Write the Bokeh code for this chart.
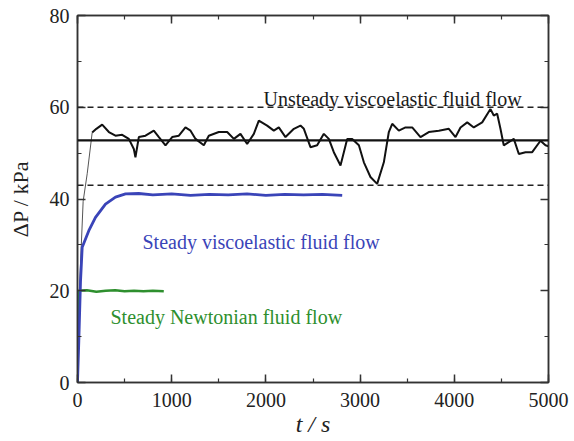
from bokeh.plotting import figure
from bokeh.models import LinearAxis, Span, Label, Range1d, FixedTicker
from bokeh.embed import file_html
from bokeh.resources import INLINE

# ---- data ----
t_unsteady = [0, 20, 60, 103, 156, 200, 262, 333, 403, 474, 545, 598, 615, 651, 722, 810, 864,
              934, 1005, 1076, 1146, 1200, 1253, 1341, 1394, 1500, 1589, 1660, 1730, 1801, 1872,
              1925, 2013, 2084, 2137, 2208, 2297, 2367, 2403, 2473, 2544, 2615, 2668, 2721, 2792,
              2863, 2916, 2987, 3040, 3110, 3181, 3252, 3305, 3341, 3411, 3482, 3553, 3641, 3729,
              3836, 3942, 4013, 4066, 4137, 4207, 4296, 4384, 4419, 4455, 4490, 4525, 4578, 4632,
              4685, 4756, 4827, 4915, 4968, 5000]
p_unsteady = [0, 20, 39.5, 45.5, 54.5, 55.3, 56.2, 54.6, 53.8, 54.0, 53.1, 50.9, 49.1, 53.5, 53.8,
              54.9, 53.5, 51.7, 53.5, 53.8, 55.6, 54.9, 53.1, 51.7, 53.8, 54.6, 54.6, 53.1, 54.2,
              52.0, 54.2, 57.1, 56.0, 54.9, 55.6, 53.5, 55.3, 56.0, 55.3, 51.3, 51.7, 54.2, 53.1,
              50.2, 47.3, 53.1, 53.1, 51.7, 48.0, 44.8, 43.3, 48.0, 54.6, 56.4, 54.9, 55.6, 55.6,
              53.5, 54.6, 54.9, 55.3, 53.5, 55.6, 56.7, 55.6, 56.7, 59.6, 58.2, 58.6, 55.3, 51.7,
              52.4, 53.1, 49.8, 50.2, 50.2, 52.7, 51.7, 51.5]
n_startup = 5  # first points form the thin start-up ramp

t_visco = [0, 14, 32, 50, 120, 191, 297, 403, 510, 650, 800, 1000, 1200, 1400, 1600, 1800, 2000,
           2200, 2400, 2600, 2810]
p_visco = [0, 9, 22, 29.5, 33.1, 36.0, 38.9, 40.4, 41.1, 41.2, 40.9, 41.1, 40.8, 41.0, 40.9, 41.1,
           40.8, 41.0, 40.9, 41.0, 40.8]

t_newton = [0, 8, 15, 100, 200, 300, 400, 500, 600, 700, 800, 916]
p_newton = [0, 17, 20, 20.1, 19.8, 20.0, 20.1, 19.9, 20.0, 19.9, 20.0, 19.9]

mean_level = 52.8
upper_level = 60.0
lower_level = 43.0

x_ticks = [0, 1000, 2000, 3000, 4000, 5000]
y_ticks = [0, 20, 40, 60, 80]

labels = [("Unsteady viscoelastic fluid flow", 1975, 61.9, "#1a1a1a"),
          ("Steady viscoelastic fluid flow", 690, 30.6, "#3a44b8"),
          ("Steady Newtonian fluid flow", 350, 14.2, "#2e8f2e")]

SERIF = "Liberation Serif"

p = figure(frame_width=471, frame_height=367, min_border_left=77, min_border_right=24,
           min_border_top=15, min_border_bottom=57, output_backend="svg", toolbar_location=None,
           x_range=Range1d(0, 5000), y_range=Range1d(0, 80))
p.grid.visible = False
p.outline_line_color = "#333333"
p.outline_line_width = 1.5
p.background_fill_color = "white"
p.border_fill_color = "white"

def style_axis(ax, ticks, minor, show_labels=True):
    ax.ticker = FixedTicker(ticks=ticks, minor_ticks=minor)
    ax.major_tick_in = 8
    ax.major_tick_out = 0
    ax.minor_tick_in = 4
    ax.minor_tick_out = 0
    ax.axis_line_color = "#333333"
    ax.axis_line_width = 1.5
    ax.major_tick_line_color = "#333333"
    ax.minor_tick_line_color = "#333333"
    ax.major_tick_line_width = 1.5
    ax.minor_tick_line_width = 1.2
    ax.major_label_text_font = SERIF
    ax.major_label_text_font_size = "20px"
    ax.major_label_text_color = "#222222"
    if not show_labels:
        ax.major_label_text_font_size = "0px"
        ax.major_label_text_color = None

x_minor = list(range(0, 5001, 500))
y_minor = list(range(0, 81, 10))

style_axis(p.xaxis[0], x_ticks, x_minor)
style_axis(p.yaxis[0], y_ticks, y_minor)
p.xaxis[0].major_label_standoff = 10
p.yaxis[0].major_label_standoff = 8

p.xaxis[0].axis_label = "t / s"
p.xaxis[0].axis_label_text_font = SERIF
p.xaxis[0].axis_label_text_font_size = "24px"
p.xaxis[0].axis_label_text_font_style = "italic"
p.xaxis[0].axis_label_text_color = "#222222"
p.xaxis[0].axis_label_standoff = 1

p.yaxis[0].axis_label = "ΔP / kPa"
p.yaxis[0].axis_label_text_font = SERIF
p.yaxis[0].axis_label_text_font_size = "22px"
p.yaxis[0].axis_label_text_font_style = "normal"
p.yaxis[0].axis_label_text_color = "#222222"
p.yaxis[0].axis_label_standoff = 14

top = LinearAxis()
style_axis(top, x_ticks, x_minor, show_labels=False)
p.add_layout(top, "above")
right = LinearAxis()
style_axis(right, y_ticks, y_minor, show_labels=False)
p.add_layout(right, "right")

for lvl in (upper_level, lower_level):
    p.add_layout(Span(location=lvl, dimension="width", line_color="#222222",
                      line_dash="6 4", line_width=1.5))
p.add_layout(Span(location=mean_level, dimension="width", line_color="#111111", line_width=2.2))

p.line(t_unsteady[:n_startup], p_unsteady[:n_startup], line_color="#555555", line_width=1.0)
p.line(t_newton, p_newton, line_color="#2e8f2e", line_width=2.5)
p.line(t_visco, p_visco, line_color="#3a44b8", line_width=2.8)
p.line(t_unsteady[n_startup - 1:], p_unsteady[n_startup - 1:], line_color="#111111", line_width=2.0)

for txt, xx, yy, col in labels:
    p.add_layout(Label(x=xx, y=yy, text=txt, text_font=SERIF, text_font_size="20px",
                       text_color=col, text_baseline="alphabetic"))

open("out.html", "w").write(file_html(p, INLINE))
